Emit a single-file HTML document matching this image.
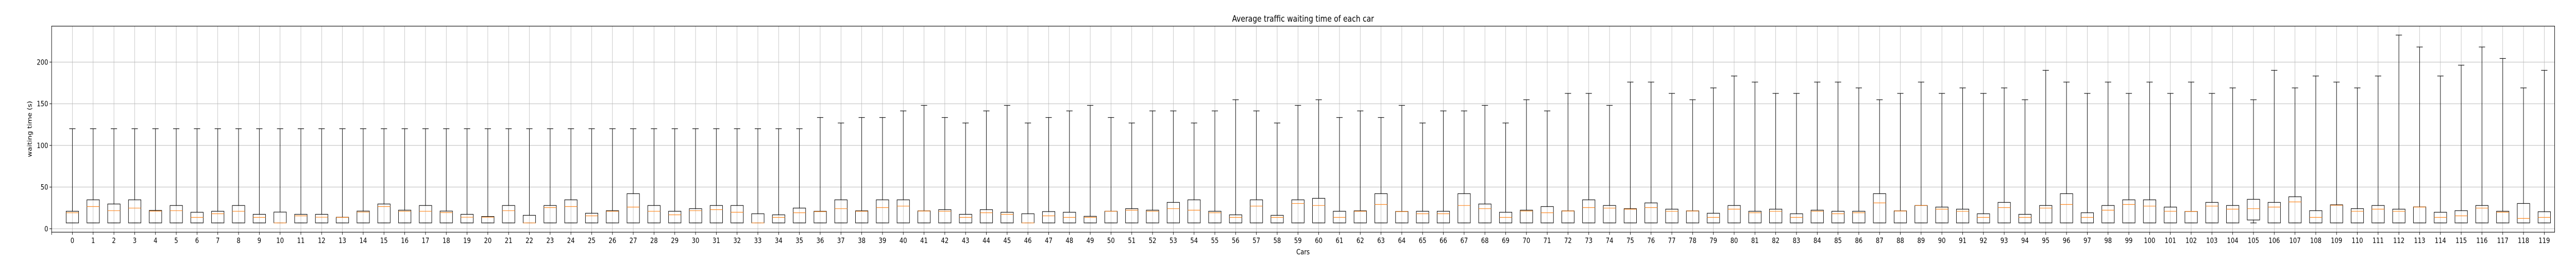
<!DOCTYPE html>
<html><head><meta charset="utf-8"><style>
html,body{margin:0;padding:0;background:#fff;width:100%;height:100%;overflow:hidden;}
svg{display:block;position:absolute;left:0;top:0;width:100vw;height:100vh;font-family:"DejaVu Sans","Liberation Sans",sans-serif;}
</style></head><body>
<svg id="chart" viewBox="0 0 6000 500" preserveAspectRatio="none" xmlns="http://www.w3.org/2000/svg">
<rect width="6000" height="500" fill="#fff"/>
<text x="3035" y="42" font-size="16.7" text-anchor="middle" fill="#000">Average traffic waiting time of each car</text>
<text x="3035" y="493" font-size="13.9" text-anchor="middle" fill="#000">Cars</text>
<text x="0" y="0" font-size="13.9" text-anchor="middle" fill="#000" transform="translate(74,250) rotate(-90)">waiting time (s)</text>
<g id="grid"></g><g id="boxes"></g><g id="axes"></g>
</svg>
<script>
const categories = Array.from({length:120},(_, i)=>String(i));
const q1 = [7,7,7,7,7,7,7,7,7,7,7,7,7,7,7,7,7,7,7,7,7,7,7,7,7,7,7,7,7,7,7,7,7,7,7,7,7,7,7,7,7,7,7,7,7,7,7,7,7,7,7,7,7,7,7,7,7,7,7,7,7,7,7,7,7,7,7,7,7,7,7,7,7,7,7,7,7,7,7,7,7,7,7,7,7,7,7,7,7,7,7,7,7,7,7,7,7,7,7,7,7,7,7,7,7,10.5,7,7,7,7,7,7,7,7,7,7,7,7,7,7];
const whiskLo = [7,7,7,7,7,7,7,7,7,7,7,7,7,7,7,7,7,7,7,7,7,7,7,7,7,7,7,7,7,7,7,7,7,7,7,7,7,7,7,7,7,7,7,7,7,7,7,7,7,7,7,7,7,7,7,7,7,7,7,7,7,7,7,7,7,7,7,7,7,7,7,7,7,7,7,7,7,7,7,7,7,7,7,7,7,7,7,7,7,7,7,7,7,7,7,7,7,7,7,7,7,7,7,7,7,7,7,7,7,7,7,7,7,7,7,7,7,7,7,7];
const q3 = [21,34.7,29.7,34.7,22,27.9,19.8,21,27.9,17.3,
20,17.3,17.3,13.8,21.2,29.7,22.3,27.9,21.2,17.3,
14.7,27.9,16.1,27.9,34.7,18.6,21.7,42.1,27.9,21,
24.1,27.9,27.9,18,16.7,24.8,21,34.7,21.5,34.7,
34.7,21.5,22.9,17.3,22.9,19.8,18,20.6,19.8,14.9,
21,24.1,22.3,31.6,34.7,21,16.7,34.7,16.1,34.7,
36.5,21,21.5,42.1,20.8,21,21,42.1,29.7,19.8,
22.3,26.6,21.5,34.7,27.9,24.1,31,23.5,21.5,18.6,
27.9,21,23.5,18,22.3,21,21,42.1,21.5,27.9,
26,23.5,18,31.6,17.3,27.9,42.1,19.2,27.9,34.7,
34.7,26,20.8,31.6,27.9,35.3,31.6,38.4,21.7,28.7,
24.1,27.9,23.5,26.2,19.8,21.7,27.9,21,30.3,20.4];
const medians = [19.2,26.6,21.7,24.8,21.2,21.7,13.6,18,21,13.6,
7,15.5,13.8,13.6,20,26.6,21,21,19.4,13.8,
13.8,21.7,7,25.4,26.6,15.5,21,26,21,16.7,
21.7,22.9,19.8,7,13.6,19.2,20.6,24.1,21,25.4,
27.2,21.3,21,13.6,19.2,17.3,7,15.5,13.6,13.6,
21,22.3,21,24.1,22.3,19.2,13.6,27.2,13.6,30.3,
27.9,13.6,21,29.1,20.6,18,18,27.9,24.1,13.6,
21.3,19.2,21.3,25.4,24.8,23.5,25.4,21,21.3,13.6,
23.5,19.2,21,13.6,21,18,19.2,31,21.3,27.9,
23.5,21,13.6,25.4,13.6,24.8,29.1,13.6,22.3,29.1,
27.2,21,20.8,27.2,23.5,24.1,26,32.2,13.6,28.2,
21,23.5,21,26,13.6,15.5,24.8,19.8,12.4,13.6];
const whiskHi = [120,120,120,120,120,120,120,120,120,120,
120,120,120,120,120,120,120,120,120,120,
120,120,120,120,120,120,120,120,120,120,
120,120,120,120,120,120,133.5,126.9,133.5,133.5,
141.4,148,133.5,126.9,141.4,148,126.9,133.5,141.4,148,
133.5,126.9,141.4,141.4,126.9,141.4,154.8,141.4,126.9,148,
154.8,133.5,141.4,133.5,148,126.9,141.4,141.4,148,126.9,
154.8,141.4,162.4,162.4,148,176,176,162.4,154.8,169,
183.3,176,162.4,162.4,176,176,169,154.8,162.4,176,
162.4,169,162.4,169,154.8,190.1,176,162.4,176,162.4,
176,162.4,176,162.4,169,154.8,190.1,169,183.3,176,
169,183.3,232.4,218.1,183.3,196.3,218.1,204.3,169,190.1];
const yTicks = [0,50,100,150,200];

const NS="http://www.w3.org/2000/svg";
const L=120.2,R=5950.3,T=50.7,B=450;
const X0=-1,X1=119.5,Y0=-4.15,Y1=243.1;
function xs(i){return L+(i-X0)/(X1-X0)*(R-L);}
function ys(v){return B-(v-Y0)/(Y1-Y0)*(B-T);}
const step=xs(1)-xs(0), bw=step*0.6, cw=bw*0.5;
function mk(parent,tag,attrs){const e=document.createElementNS(NS,tag);for(const k in attrs)e.setAttribute(k,attrs[k]);parent.appendChild(e);return e;}
const grid=document.getElementById('grid'),boxes=document.getElementById('boxes'),axes=document.getElementById('axes');
categories.forEach((c,i)=>{
  const g=mk(grid,'line',{x1:xs(i),x2:xs(i),y1:T,y2:B,stroke:'#b0b0b0','stroke-width':0.8});
  
  
});
yTicks.forEach(v=>{
  const g=mk(grid,'line',{x1:L,x2:R,y1:ys(v),y2:ys(v),stroke:'#b0b0b0','stroke-width':0.8});
  
  
});
categories.forEach((c,i)=>{
  const x=xs(i);
  const g=mk(boxes,'g',{});
  
  
  const st={stroke:'#000','stroke-width':1.1,fill:'none'};
  mk(g,'line',Object.assign({x1:x,x2:x,y1:ys(q3[i]),y2:ys(whiskHi[i])},st));
  mk(g,'line',Object.assign({x1:x,x2:x,y1:ys(q1[i]),y2:ys(whiskLo[i])},st));
  mk(g,'line',Object.assign({x1:x-cw/2,x2:x+cw/2,y1:ys(whiskHi[i]),y2:ys(whiskHi[i])},st));
  mk(g,'line',Object.assign({x1:x-cw/2,x2:x+cw/2,y1:ys(whiskLo[i]),y2:ys(whiskLo[i])},st));
  mk(g,'rect',Object.assign({x:x-bw/2,y:ys(q3[i]),width:bw,height:ys(q1[i])-ys(q3[i])},st));
  const m=mk(g,'line',{x1:x-bw/2,x2:x+bw/2,y1:ys(medians[i]),y2:ys(medians[i]),stroke:'#ff7f0e','stroke-width':1.1});
  
  
});
const fr=mk(axes,'rect',{x:L,y:T,width:R-L,height:B-T,fill:'none',stroke:'#000','stroke-width':1.1});


mk(axes,'line',{x1:L,x2:L,y1:B,y2:B+5,stroke:'#000','stroke-width':1});
categories.forEach((c,i)=>{
  const x=xs(i);
  mk(axes,'line',{x1:x,x2:x,y1:B,y2:B+5,stroke:'#000','stroke-width':1});
  const t=mk(axes,'text',{x:x,y:471,'font-size':13.9,'text-anchor':'middle',fill:'#000'});
  t.textContent=c;
  
  
});
yTicks.forEach(v=>{
  const y=ys(v);
  mk(axes,'line',{x1:L-5,x2:L,y1:y,y2:y,stroke:'#000','stroke-width':1});
  const t=mk(axes,'text',{x:L-8,y:y+5,'font-size':13.9,'text-anchor':'end',fill:'#000'});
  t.textContent=String(v);
  
  
});
</script>
</body></html>
